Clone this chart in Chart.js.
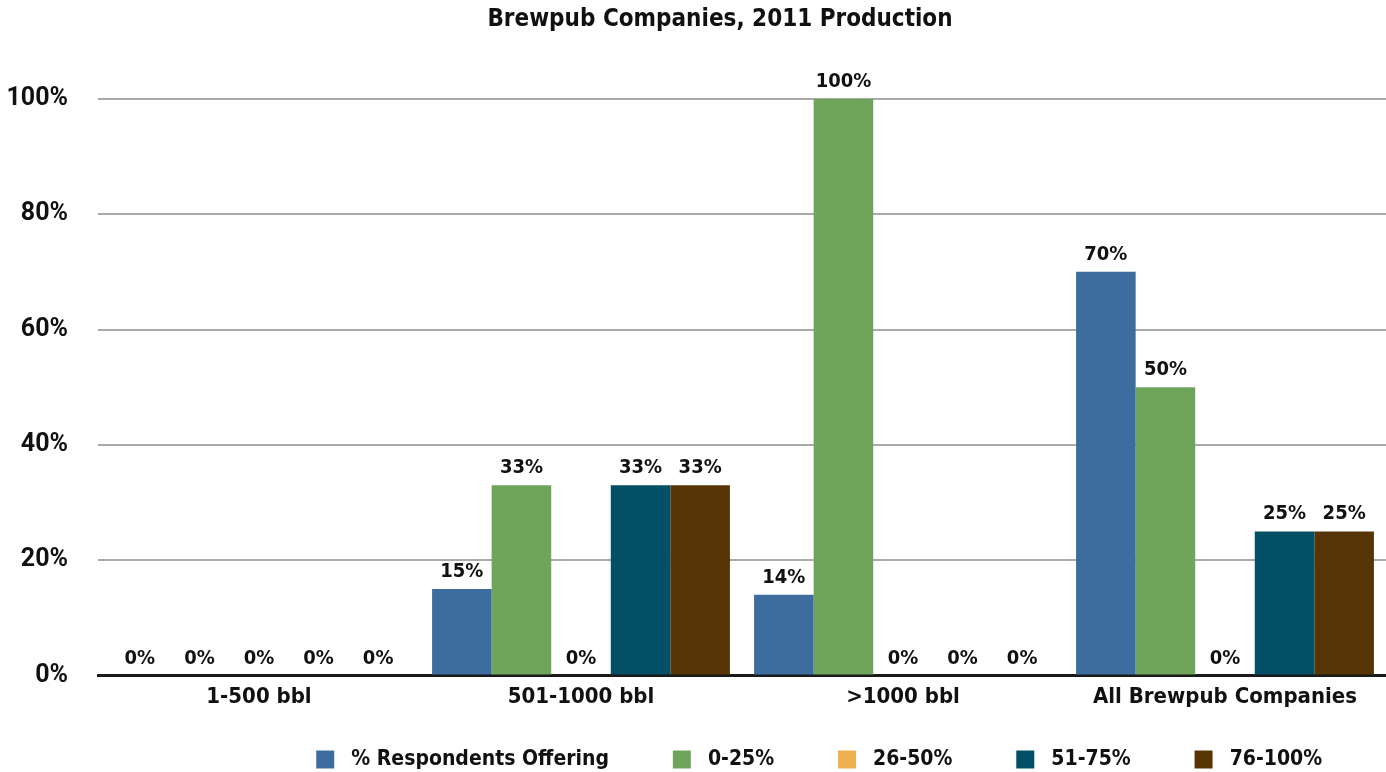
<!DOCTYPE html>
<html>
<head>
<meta charset="utf-8">
<script src="https://cdn.jsdelivr.net/npm/chart.js@4.4.0/dist/chart.umd.min.js"></script>
<style>
  html, body { margin: 0; padding: 0; background: #fff; }
  #wrap { width: 1386px; height: 772px; }
</style>
</head>
<body>
<div id="wrap"><canvas id="brewChart" width="1386" height="772"></canvas></div>
<script>
const categories = ['1-500 bbl', '501-1000 bbl', '>1000 bbl', 'All Brewpub Companies'];
const seriesNames = ['% Respondents Offering', '0-25%', '26-50%', '51-75%', '76-100%'];
const respondents = [0, 15, 14, 70];
const pct0to25 = [0, 33, 100, 50];
const pct26to50 = [0, 0, 0, 0];
const pct51to75 = [0, 33, 0, 25];
const pct76to100 = [0, 33, 0, 25];
const yTicks = [0, 20, 40, 60, 80, 100];

const colors = ['#3c6d9e', '#6ea55a', '#efb04f', '#034f66', '#573404'];
const NARROW = "'DejaVu Sans Condensed', 'Liberation Sans', sans-serif";

// value labels above each bar
const barLabels = {
    id: 'barLabels',
    afterLayout(chart) {
        // title sits a little right of the canvas centre in the original
        const t = chart.titleBlock;
        if (t) { t.left += 24; t.right += 24; }
    },
    afterDatasetsDraw(chart) {
        const c = chart.ctx;
        c.save();
        c.font = 'bold 20px ' + NARROW;
        c.fillStyle = '#111';
        c.textAlign = 'center';
        c.textBaseline = 'alphabetic';
        chart.data.datasets.forEach((ds, i) => {
            chart.getDatasetMeta(i).data.forEach((bar, j) => {
                c.fillText(ds.data[j] + '%', bar.x, bar.y - 12);
            });
        });
        c.restore();
    }
};

const ctx = document.getElementById('brewChart').getContext('2d');

let brewChart = new Chart(ctx, {
    type: 'bar',
    data: {
        labels: categories,
        datasets: [respondents, pct0to25, pct26to50, pct51to75, pct76to100].map((d, i) => ({
            label: seriesNames[i],
            data: d,
            backgroundColor: colors[i],
            borderWidth: 0,
            categoryPercentage: 0.925,
            barPercentage: 1.0
        }))
    },
    plugins: [barLabels],
    options: {
        responsive: false,
        animation: false,
        layout: { padding: { left: 6, right: 0, top: 0, bottom: -8 } },
        plugins: {
            title: {
                display: true,
                text: 'Brewpub Companies, 2011 Production',
                color: '#111',
                font: { family: NARROW, size: 24, weight: 'bold' },
                padding: { top: 5, bottom: 65 }
            },
            legend: {
                position: 'bottom',
                align: 'end',
                labels: {
                    color: '#111',
                    font: { family: NARROW, size: 21, weight: 'bold' },
                    boxWidth: 18,
                    boxHeight: 18,
                    padding: 31,
                    // a bit more room around each entry, like the original
                    generateLabels: chart => Chart.defaults.plugins.legend.labels.generateLabels(chart)
                        .map(item => Object.assign(item, { text: ' ' + item.text + '     ' }))
                }
            },
            tooltip: { enabled: false }
        },
        scales: {
            x: {
                grid: { display: false, drawTicks: false },
                border: { color: '#1a1a1a', width: 3 },
                ticks: {
                    color: '#111',
                    font: { family: NARROW, size: 22, weight: 'bold' },
                    padding: 8,
                    maxRotation: 0,
                    autoSkip: false
                }
            },
            y: {
                min: 0,
                max: 100,
                afterBuildTicks: axis => { axis.ticks = yTicks.map(v => ({ value: v })); },
                afterFit: axis => { axis.width = 92; },
                grid: { color: '#aaaaaa', lineWidth: 2, drawTicks: false },
                border: { display: false },
                ticks: {
                    color: '#111',
                    font: { family: 'Roboto', size: 25, weight: 'bold' },
                    padding: 30,
                    callback: v => v + '%'
                }
            }
        }
    }
});
</script>
</body>
</html>
